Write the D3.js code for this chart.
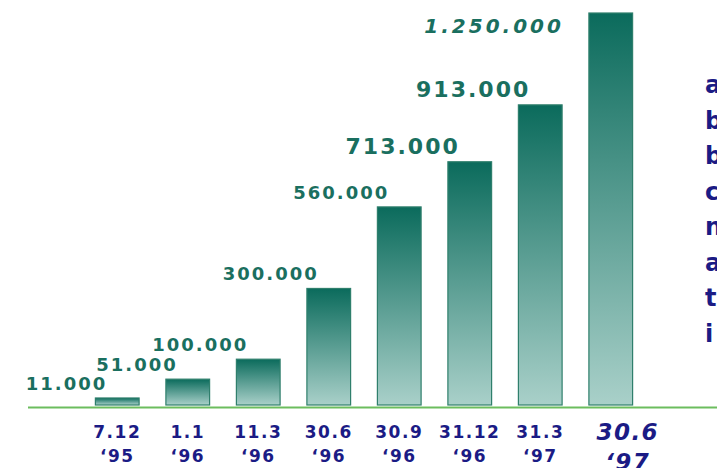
<!DOCTYPE html>
<html>
<head>
<meta charset="utf-8">
<script src="https://cdn.jsdelivr.net/npm/d3@7"></script>
<style>
  body { margin: 0; background: #fff; }
  svg { display: block; }
</style>
</head>
<body>
<svg id="chart" width="717" height="468"></svg>
<script>
const dates = ["7.12", "1.1", "11.3", "30.6", "30.9", "31.12", "31.3", "30.6 "];
const years = ["‘95", "‘96", "‘96", "‘96", "‘96", "‘96", "‘97", "‘97"];
const values = [11000, 51000, 100000, 300000, 560000, 713000, 913000, 1250000];
const valueLabels = ["11.000", "51.000", "100.000", "300.000", "560.000", "713.000", "913.000", "1.250.000"];
const sideText = ["a", "b", "b", "c", "n", "a", "t", "i"];

const svg = d3.select("#chart");
const data = dates.map((d, i) => ({ date: d, year: years[i], value: values[i], label: valueLabels[i], last: i === dates.length - 1 }));

const x = d3.scaleBand()
  .domain(dates)
  .range([82, 646])
  .paddingInner(0.38)
  .paddingOuter(0.19);

// the original bars grow a bit less than linearly
const y = d3.scalePow()
  .exponent(0.85)
  .domain([0, 1250000])
  .range([405, 13]);

const defs = svg.append("defs");
const grad = defs.append("linearGradient")
  .attr("id", "barGrad")
  .attr("x1", "0%").attr("y1", "0%")
  .attr("x2", "0%").attr("y2", "100%");
grad.append("stop").attr("offset", "0%").attr("stop-color", "#0b6b5c");
grad.append("stop").attr("offset", "100%").attr("stop-color", "#a9d0c9");

// bars
svg.selectAll("rect.bar")
  .data(data)
  .enter()
  .append("rect")
  .attr("class", "bar")
  .attr("x", d => x(d.date))
  .attr("y", d => y(d.value))
  .attr("width", x.bandwidth())
  .attr("height", d => y(0) - y(d.value))
  .attr("fill", "url(#barGrad)")
  .attr("stroke", "#2f7f6c")
  .attr("stroke-width", 1.2);

// baseline
svg.append("line")
  .attr("x1", 28).attr("x2", 717)
  .attr("y1", y(0) + 2.5).attr("y2", y(0) + 2.5)
  .attr("stroke", "#6cbd5e")
  .attr("stroke-width", 2);

// value labels
svg.selectAll("text.value")
  .data(data)
  .enter()
  .append("text")
  .attr("class", "value")
  .attr("x", d => d.last ? x(d.date) - 25 : x(d.date) + x.bandwidth() / 2 - 10)
  .attr("y", d => d.last ? y(d.value) + 20 : y(d.value) - 8)
  .attr("text-anchor", "end")
  .attr("font-family", "DejaVu Sans, Verdana, sans-serif")
  .attr("font-weight", "bold")
  .attr("font-style", d => d.last ? "italic" : "normal")
  .attr("font-size", d => d.last ? 20 : (d.value > 600000 ? 22 : 18))
  .attr("letter-spacing", d => d.last ? 3 : 2)
  .attr("fill", "#1a6f5f")
  .text(d => d.label);

// category labels
const cat = svg.selectAll("g.cat")
  .data(data)
  .enter()
  .append("g")
  .attr("class", "cat")
  .attr("transform", d => `translate(${x(d.date) + x.bandwidth() / 2 + (d.last ? 17 : 0)},0)`)
  .attr("font-family", "DejaVu Sans, Verdana, sans-serif")
  .attr("font-weight", "bold")
  .attr("fill", "#1b1b85")
  .attr("text-anchor", "middle");

cat.append("text")
  .attr("y", d => d.last ? 440 : 438)
  .attr("font-size", d => d.last ? 23 : 17)
  .attr("font-style", d => d.last ? "italic" : "normal")
  .attr("letter-spacing", 1.5)
  .text(d => d.date.trim());

cat.append("text")
  .attr("y", d => d.last ? 470 : 462)
  .attr("font-size", d => d.last ? 23 : 17)
  .attr("font-style", d => d.last ? "italic" : "normal")
  .attr("letter-spacing", 1.5)
  .text(d => d.year);

// text cropped by the right edge
svg.append("g")
  .selectAll("text")
  .data(sideText)
  .enter()
  .append("text")
  .attr("x", 705)
  .attr("y", (d, i) => 93 + i * 35.5)
  .attr("font-family", "DejaVu Sans, Verdana, sans-serif")
  .attr("font-weight", "bold")
  .attr("font-size", 24)
  .attr("fill", "#1b1b85")
  .text(d => d);
</script>
</body>
</html>
